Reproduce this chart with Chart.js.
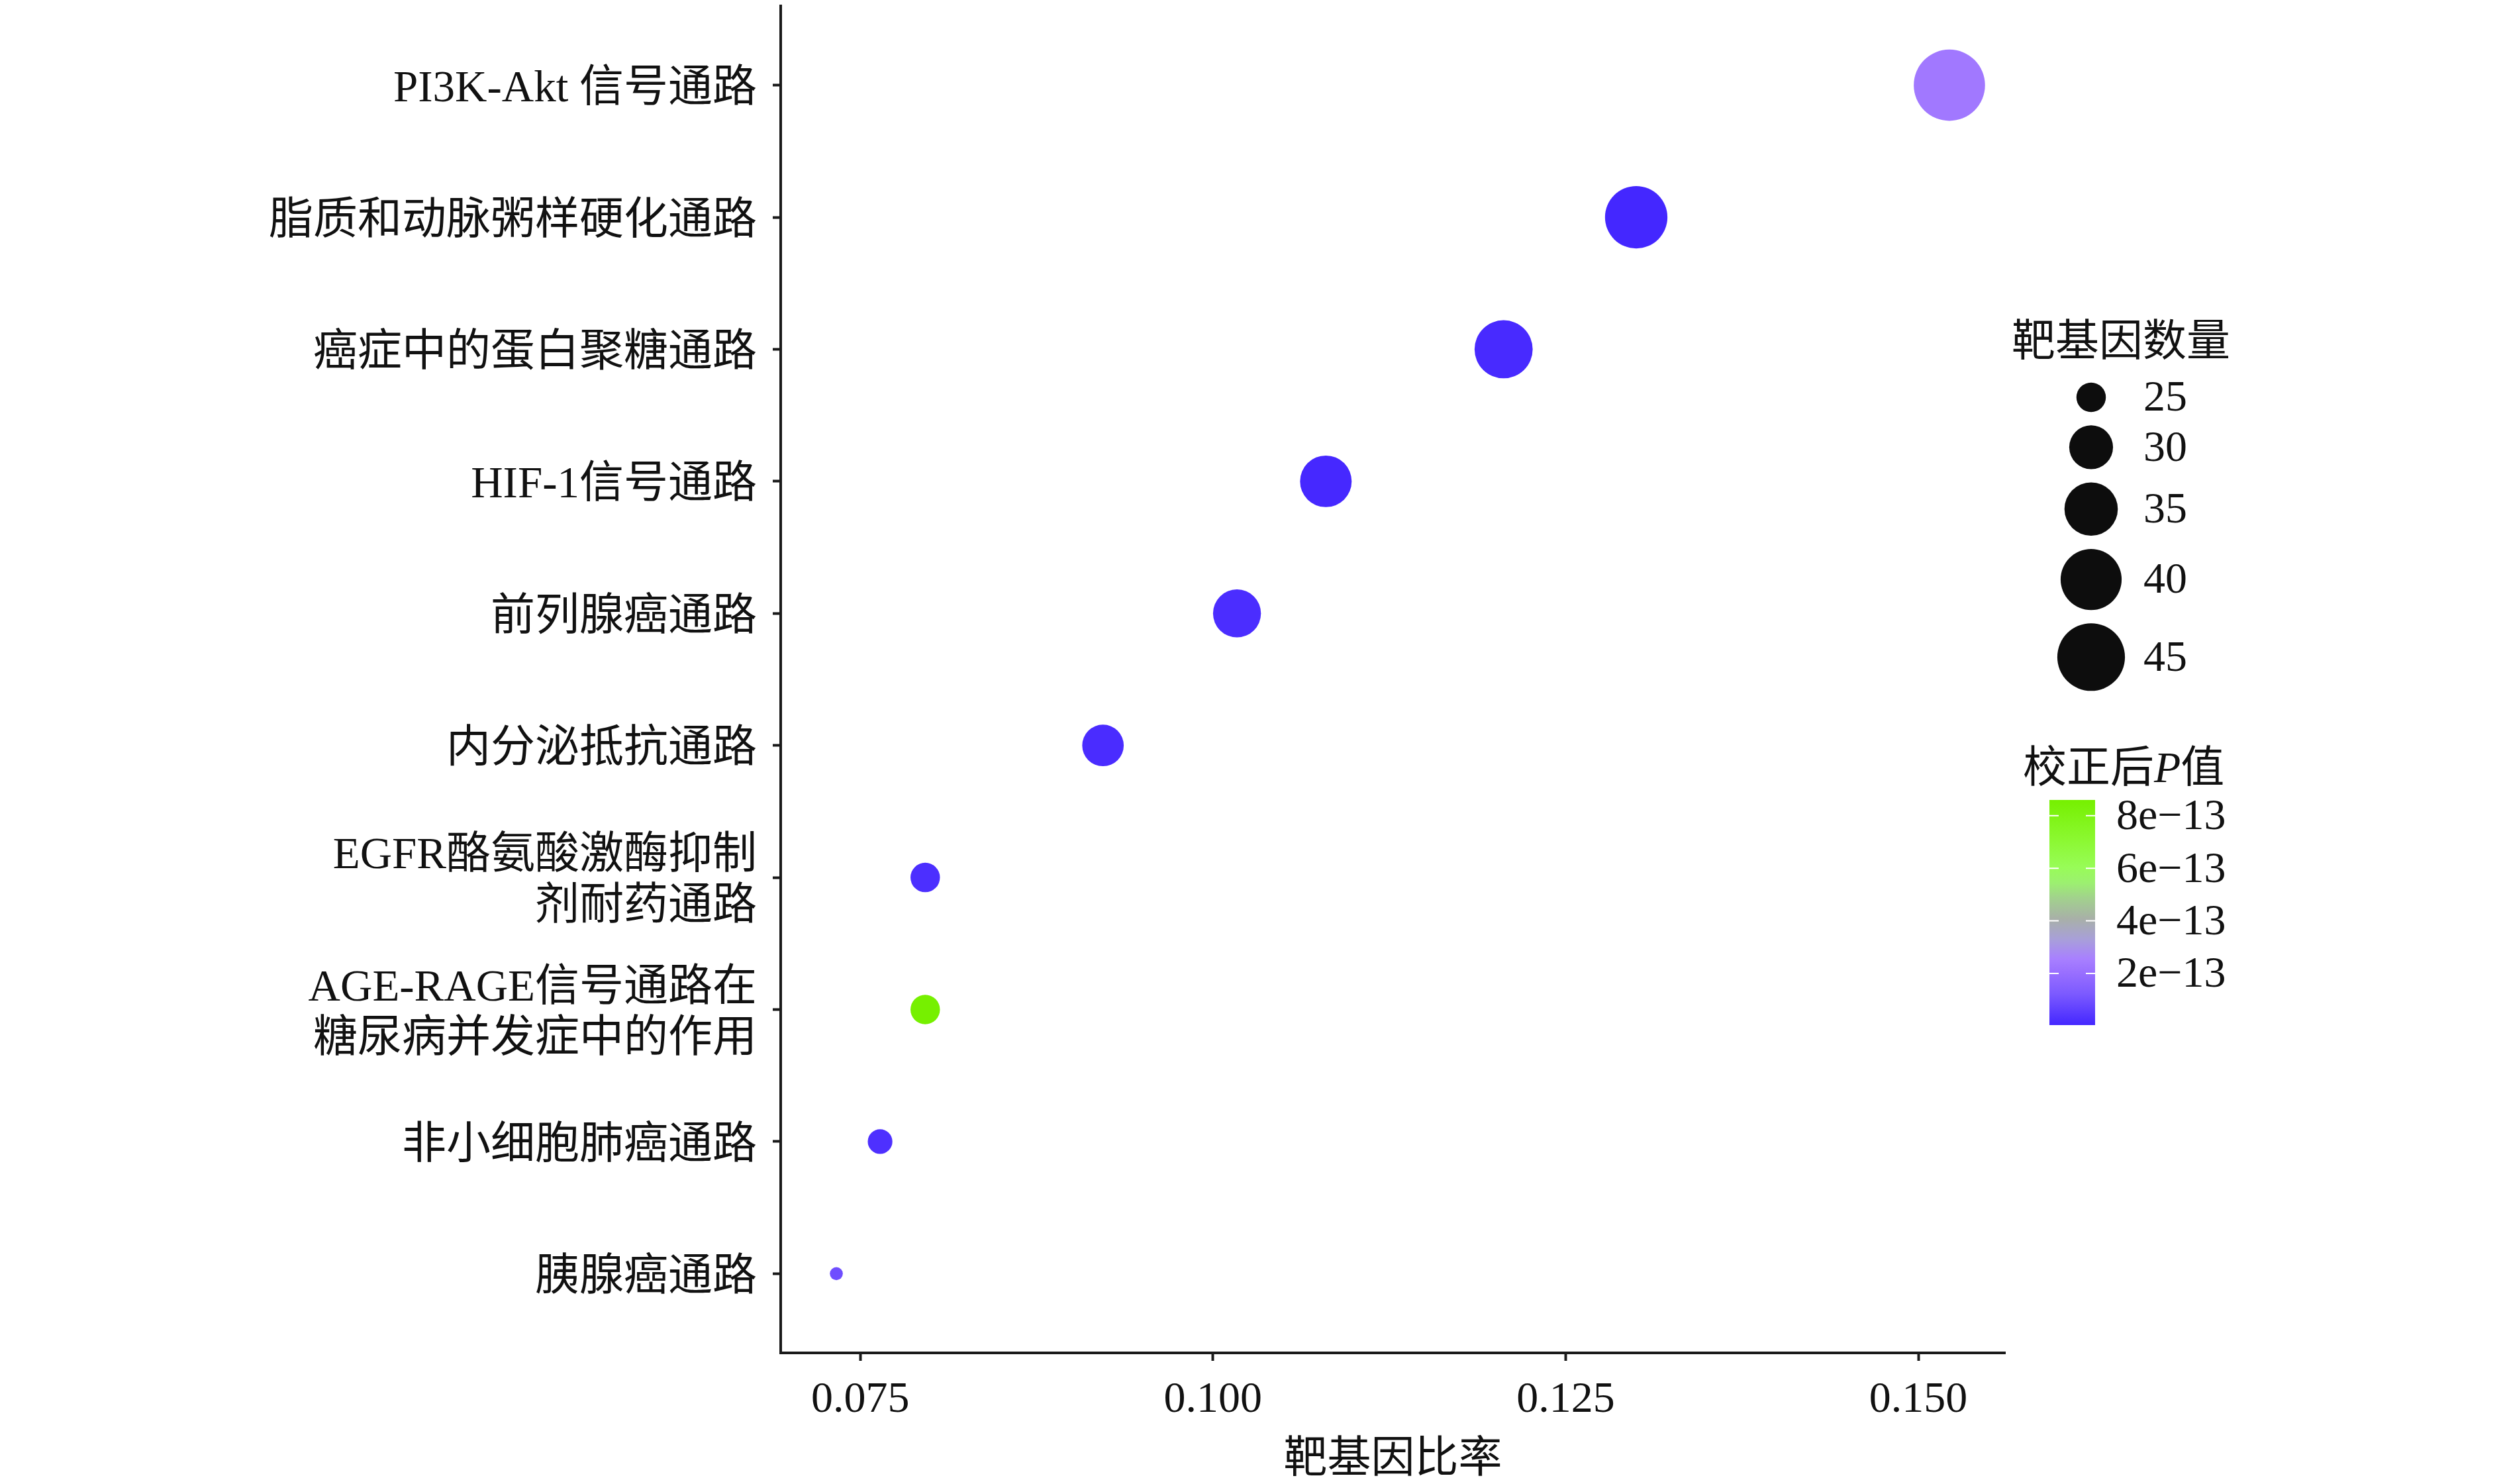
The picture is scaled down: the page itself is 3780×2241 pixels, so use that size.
<!DOCTYPE html>
<html><head><meta charset="utf-8">
<script src="https://cdn.jsdelivr.net/npm/chart.js@4.4.1/dist/chart.umd.min.js"></script>
<style>html,body{margin:0;padding:0;background:#fff}#wrap{width:3780px;height:2241px;position:relative;background:#fff}</style>
</head><body><div id="wrap"><canvas id="c" width="3780" height="2241"></canvas></div>
<script>
// ---------------- data ----------------
const categories = [
  "PI3K-Akt 信号通路",
  "脂质和动脉粥样硬化通路",
  "癌症中的蛋白聚糖通路",
  "HIF-1信号通路",
  "前列腺癌通路",
  "内分泌抵抗通路",
  ["EGFR酪氨酸激酶抑制", "剂耐药通路"],
  ["AGE-RAGE信号通路在", "糖尿病并发症中的作用"],
  "非小细胞肺癌通路",
  "胰腺癌通路"
];
const geneRatio = [0.1522, 0.1300, 0.1206, 0.1080, 0.1017, 0.0922, 0.0796, 0.0796, 0.0764, 0.0733];
const geneCount = [48, 41, 38, 34, 32, 29, 25, 25, 24, 23];
const padj = [2.3e-13, 3.2e-15, 1.1e-14, 6.5e-15, 1.8e-14, 1.5e-14, 2.1e-14, 8.6e-13, 2.4e-14, 9.5e-14];
const xTicks = [0.075, 0.100, 0.125, 0.150];
const xTickLabels = ["0.075", "0.100", "0.125", "0.150"];
const sizeBreaks = [25, 30, 35, 40, 45];
const colorBreaks = [2e-13, 4e-13, 6e-13, 8e-13];
const colorBreakLabels = ["2e\u221213", "4e\u221213", "6e\u221213", "8e\u221213"];
const xTitle = "靶基因比率";
const sizeTitle = "靶基因数量";

// ---------------- styling ----------------
const FONT = '"Liberation Serif", "Times New Roman", "Noto Sans CJK SC", serif';
const INK = '#111111';
const AXIS = '#1a1a1a';
const FS = 66;

// colour ramp (fraction of p range -> colour), sampled from the colour bar
const rampStops = [
  [0.000, [0x44, 0x27, 0xFF]],
  [0.139, [0x7C, 0x5A, 0xFF]],
  [0.236, [0x9A, 0x70, 0xFF]],
  [0.295, [0xA8, 0x80, 0xFF]],
  [0.383, [0xA8, 0xA0, 0xD8]],
  [0.472, [0xA8, 0xB0, 0xA8]],
  [0.561, [0xA2, 0xD0, 0x8E]],
  [0.632, [0x9C, 0xF0, 0x70]],
  [0.699, [0x98, 0xFC, 0x58]],
  [0.826, [0x8B, 0xF8, 0x30]],
  [1.000, [0x76, 0xF0, 0x00]]
];
const pMin = Math.min(...padj), pMax = Math.max(...padj);
function rampColor(t) {
  t = Math.max(0, Math.min(1, t));
  for (let i = 1; i < rampStops.length; i++) {
    if (t <= rampStops[i][0]) {
      const [t0, c0] = rampStops[i - 1], [t1, c1] = rampStops[i];
      const f = (t - t0) / (t1 - t0);
      const c = c0.map((v, k) => Math.round(v + (c1[k] - v) * f));
      return `rgb(${c[0]},${c[1]},${c[2]})`;
    }
  }
  const c = rampStops[rampStops.length - 1][1];
  return `rgb(${c[0]},${c[1]},${c[2]})`;
}
function colorOf(p) { return rampColor((p - pMin) / (pMax - pMin)); }

// size scale (area-proportional, like ggplot scale_size)
const cMin = Math.min(...geneCount), cMax = Math.max(...geneCount);
const R_MIN = 9.8, R_SPAN = 44;
function radiusOf(n) { return R_MIN + R_SPAN * Math.sqrt((n - cMin) / (cMax - cMin)); }

// x limits with 5% expansion
const rMinX = Math.min(...geneRatio), rMaxX = Math.max(...geneRatio);
const xPad = (rMaxX - rMinX) * 0.05;

const points = geneRatio.map((r, i) => ({ x: r, y: i }));

// ---------------- legends plugin ----------------
const legendPlugin = {
  id: 'ggLegends',
  afterDraw(chart) {
    const ctx = chart.ctx;
    ctx.save();
    ctx.fillStyle = INK;
    ctx.textBaseline = 'middle';
    ctx.textAlign = 'left';
    ctx.font = `${FS}px ${FONT}`;
    // size legend
    ctx.fillText(sizeTitle, 3038, 520);
    let top = 600 - (2 * radiusOf(sizeBreaks[0]) + 20) / 2;
    sizeBreaks.forEach((b) => {
      const r = radiusOf(b);
      const h = 2 * r + 20;
      const cy = top + h / 2;
      ctx.fillStyle = '#0d0d0d';
      ctx.beginPath();
      ctx.arc(3158, cy, r, 0, Math.PI * 2);
      ctx.fill();
      ctx.fillStyle = INK;
      ctx.fillText(String(b), 3237, cy + 3);
      top += h;
    });

    // colour legend title: 校正后 P(italic) 值
    let x = 3055;
    const ty = 1164;
    ctx.font = `${FS}px ${FONT}`;
    ctx.fillText('校正后', x, ty); x += ctx.measureText('校正后').width;
    ctx.font = `italic ${FS}px ${FONT}`;
    ctx.fillText('P', x, ty); x += ctx.measureText('P').width;
    ctx.font = `${FS}px ${FONT}`;
    ctx.fillText('值', x, ty);

    // colour bar
    const bx = 3095, bw = 69, btop = 1208, bbot = 1548;
    const g = ctx.createLinearGradient(0, bbot, 0, btop);
    rampStops.forEach(([t, c]) => g.addColorStop(t, `rgb(${c[0]},${c[1]},${c[2]})`));
    ctx.fillStyle = g;
    ctx.fillRect(bx, btop, bw, bbot - btop);
    ctx.strokeStyle = '#ffffff';
    ctx.lineWidth = 2;
    ctx.font = `${FS}px ${FONT}`;
    colorBreaks.forEach((v, i) => {
      const t = (v - pMin) / (pMax - pMin);
      const y = bbot - t * (bbot - btop);
      ctx.beginPath();
      ctx.moveTo(bx, y); ctx.lineTo(bx + 14, y);
      ctx.moveTo(bx + bw - 14, y); ctx.lineTo(bx + bw, y);
      ctx.stroke();
      ctx.fillStyle = INK;
      ctx.fillText(colorBreakLabels[i], 3196, y + 3);
    });
    ctx.restore();
  }
};

const axisGrid = { display: true, drawOnChartArea: false, drawTicks: true, tickLength: 12, tickWidth: 4, tickColor: AXIS };
const axisBorder = { display: true, width: 4, color: AXIS };

Chart.defaults.font.family = FONT;
new Chart(document.getElementById('c'), {
  type: 'scatter',
  data: {
    datasets: [{
      data: points,
      pointStyle: 'circle',
      pointRadius: (c) => radiusOf(geneCount[c.dataIndex]),
      pointHoverRadius: (c) => radiusOf(geneCount[c.dataIndex]),
      backgroundColor: (c) => colorOf(padj[c.dataIndex]),
      hoverBackgroundColor: (c) => colorOf(padj[c.dataIndex]),
      borderWidth: 0,
      hoverBorderWidth: 0
    }]
  },
  options: {
    responsive: false,
    animation: false,
    events: [],
    layout: { autoPadding: false, padding: { left: 0, right: 752, top: 9, bottom: 0 } },
    plugins: { legend: { display: false }, tooltip: { enabled: false } },
    scales: {
      x: {
        type: 'linear',
        min: rMinX - xPad,
        max: rMaxX + xPad,
        afterBuildTicks: (a) => { a.ticks = xTicks.map(v => ({ value: v })); },
        afterFit: (s) => { s.height = 198; s.paddingLeft = 0; s.paddingRight = 0; },
        ticks: {
          callback: (v) => { const i = xTicks.findIndex(t => Math.abs(t - v) < 1e-9); return i >= 0 ? xTickLabels[i] : ''; },
          font: { size: FS }, color: INK, padding: 20, maxRotation: 0, autoSkip: false
        },
        grid: axisGrid,
        border: axisBorder,
        title: { display: true, text: xTitle, font: { size: FS }, color: INK, padding: { top: 0, bottom: -4 } }
      },
      y: {
        type: 'linear',
        reverse: true,
        min: -0.6,
        max: categories.length - 1 + 0.6,
        afterBuildTicks: (a) => { a.ticks = categories.map((_, i) => ({ value: i })); },
        afterFit: (s) => { s.width = 1179; s.paddingTop = 0; s.paddingBottom = 0; },
        ticks: {
          callback: (v) => categories[Math.round(v)],
          font: { size: 67, lineHeight: 1.15 }, color: INK, padding: 24, labelOffset: 7, autoSkip: false
        },
        grid: axisGrid,
        border: axisBorder
      }
    }
  },
  plugins: [legendPlugin]
});
</script>
</body></html>
